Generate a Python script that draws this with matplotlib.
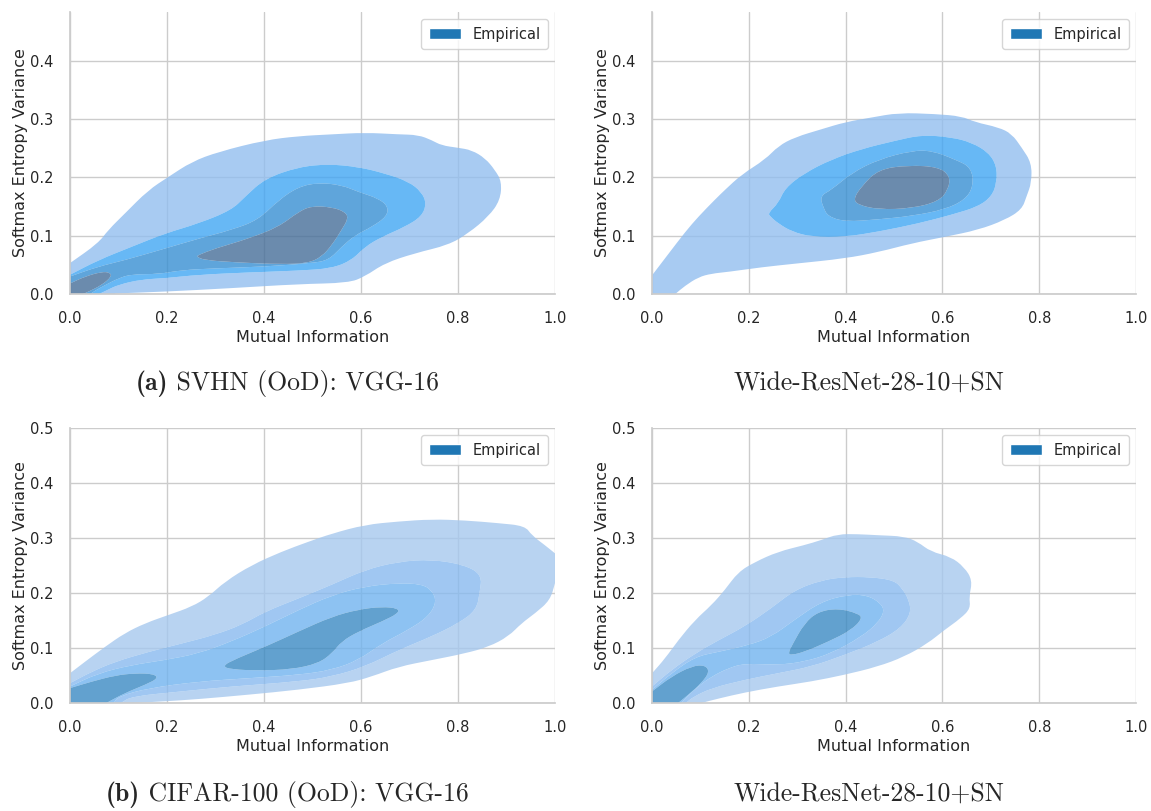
import numpy as np
import matplotlib
matplotlib.use("Agg")
import matplotlib.pyplot as plt
import matplotlib.colors as mcolors
import seaborn as sns
from matplotlib.path import Path
from matplotlib.patches import PathPatch, Patch

#-------------------------------------------------------------------------------
# contour outlines (x = mutual information, y = variance)
#-------------------------------------------------------------------------------
# (a) SVHN, VGG-16
svhn_vgg_l1 = [[(0, 0.053), (0.058, 0.087), (0.079, 0.11), (0.113, 0.138), (0.161, 0.178),
                (0.203, 0.201), (0.251, 0.227), (0.306, 0.244), (0.402, 0.264), (0.471, 0.271),
                (0.54, 0.274), (0.608, 0.277), (0.677, 0.274), (0.718, 0.273), (0.746, 0.264),
                (0.766, 0.255), (0.8, 0.251), (0.828, 0.247), (0.856, 0.233), (0.876, 0.213),
                (0.89, 0.193), (0.887, 0.161), (0.863, 0.133), (0.821, 0.104), (0.78, 0.084),
                (0.711, 0.07), (0.649, 0.053), (0.608, 0.03), (0.574, 0.019), (0.471, 0.017),
                (0.333, 0.01), (0.196, 0.004), (0.093, 0.001), (0.093, 0), (0, 0)]]
svhn_vgg_l2 = [[(0, 0.033), (0.058, 0.058), (0.127, 0.081), (0.196, 0.104), (0.265, 0.121),
                (0.333, 0.144), (0.361, 0.167), (0.402, 0.198), (0.471, 0.218), (0.533, 0.223),
                (0.595, 0.218), (0.649, 0.207), (0.698, 0.193), (0.725, 0.175), (0.735, 0.155),
                (0.725, 0.133), (0.69, 0.115), (0.643, 0.098), (0.608, 0.081), (0.581, 0.058),
                (0.54, 0.044), (0.471, 0.04), (0.368, 0.037), (0.265, 0.033), (0.196, 0.027),
                (0.148, 0.025), (0.1, 0.016), (0.075, 0.006), (0.06, 0), (0, 0)]]
svhn_vgg_l3 = [[(0, 0.03), (0.058, 0.047), (0.113, 0.058), (0.196, 0.078), (0.265, 0.095),
                (0.333, 0.11), (0.388, 0.127), (0.43, 0.161), (0.471, 0.184), (0.512, 0.191),
                (0.56, 0.187), (0.595, 0.175), (0.636, 0.164), (0.656, 0.15), (0.653, 0.133),
                (0.622, 0.115), (0.588, 0.101), (0.56, 0.081), (0.533, 0.058), (0.498, 0.053),
                (0.402, 0.047), (0.299, 0.044), (0.23, 0.041), (0.182, 0.034), (0.127, 0.034),
                (0.1, 0.027), (0.072, 0.015), (0.052, 0.006), (0.042, 0), (0, 0)]]
svhn_vgg_l4 = [[(0, 0.018), (0.031, 0.03), (0.065, 0.038), (0.082, 0.037), (0.086, 0.03),
                (0.065, 0.015), (0.038, 0.004), (0.027, 0), (0, 0)],
               [(0.265, 0.067), (0.299, 0.078), (0.368, 0.095), (0.43, 0.115), (0.471, 0.141),
                (0.498, 0.151), (0.54, 0.149), (0.567, 0.141), (0.574, 0.13), (0.56, 0.11),
                (0.54, 0.084), (0.519, 0.064), (0.491, 0.053), (0.436, 0.051), (0.347, 0.054),
                (0.278, 0.058), (0.261, 0.064)]]

# SVHN, Wide-ResNet-28-10+SN
svhn_wrn_l1 = [[(0, 0.032), (0.034, 0.069), (0.069, 0.107), (0.096, 0.133), (0.13, 0.162),
                (0.151, 0.179), (0.185, 0.205), (0.234, 0.231), (0.261, 0.254), (0.295, 0.269),
                (0.351, 0.283), (0.399, 0.295), (0.454, 0.303), (0.509, 0.311), (0.585, 0.309),
                (0.64, 0.305), (0.667, 0.295), (0.716, 0.286), (0.743, 0.275), (0.764, 0.251),
                (0.784, 0.225), (0.784, 0.191), (0.774, 0.168), (0.764, 0.145), (0.729, 0.127),
                (0.674, 0.11), (0.605, 0.098), (0.537, 0.087), (0.468, 0.072), (0.399, 0.061),
                (0.295, 0.052), (0.227, 0.046), (0.158, 0.038), (0.123, 0.035), (0.096, 0.029),
                (0.068, 0.014), (0.048, 0), (0, 0)]]
svhn_wrn_l2 = [[(0.24, 0.139), (0.261, 0.156), (0.275, 0.182), (0.316, 0.208), (0.371, 0.231),
                (0.433, 0.249), (0.502, 0.263), (0.557, 0.273), (0.619, 0.269), (0.66, 0.26),
                (0.695, 0.243), (0.712, 0.22), (0.712, 0.191), (0.702, 0.168), (0.674, 0.15),
                (0.619, 0.136), (0.55, 0.121), (0.468, 0.107), (0.399, 0.098), (0.33, 0.098),
                (0.289, 0.107), (0.261, 0.121), (0.244, 0.133)]]
svhn_wrn_l3 = [[(0.347, 0.168), (0.371, 0.179), (0.413, 0.208), (0.468, 0.231), (0.537, 0.246),
                (0.578, 0.246), (0.626, 0.231), (0.66, 0.217), (0.664, 0.185), (0.647, 0.162),
                (0.605, 0.145), (0.537, 0.134), (0.468, 0.128), (0.399, 0.124), (0.364, 0.133),
                (0.354, 0.148)]]
svhn_wrn_l4 = [[(0.416, 0.163), (0.433, 0.185), (0.468, 0.214), (0.53, 0.221), (0.592, 0.218),
                (0.616, 0.202), (0.612, 0.179), (0.592, 0.159), (0.537, 0.147), (0.468, 0.145),
                (0.426, 0.153)]]

# (b) CIFAR-100, VGG-16
cifar_vgg_l1 = [[(0, 0.054), (0.031, 0.075), (0.072, 0.102), (0.113, 0.127), (0.155, 0.145),
                 (0.203, 0.16), (0.251, 0.175), (0.285, 0.193), (0.32, 0.221), (0.375, 0.251),
                 (0.436, 0.275), (0.491, 0.293), (0.54, 0.308), (0.608, 0.324), (0.677, 0.33),
                 (0.746, 0.334), (0.814, 0.332), (0.883, 0.327), (0.938, 0.322), (0.952, 0.305),
                 (0.979, 0.287), (1.0, 0.272), (1.0, 0.218), (0.99, 0.187), (0.959, 0.163),
                 (0.931, 0.145), (0.904, 0.121), (0.863, 0.102), (0.814, 0.09), (0.746, 0.078),
                 (0.677, 0.066), (0.622, 0.048), (0.574, 0.036), (0.471, 0.024), (0.368, 0.015),
                 (0.265, 0.007), (0.196, 0.003), (0.13, 0), (0, 0)]]
cifar_vgg_l2 = [[(0, 0.036), (0.045, 0.057), (0.093, 0.075), (0.162, 0.093), (0.23, 0.108),
                 (0.299, 0.124), (0.354, 0.142), (0.402, 0.166), (0.471, 0.19), (0.54, 0.215),
                 (0.608, 0.242), (0.677, 0.257), (0.746, 0.261), (0.814, 0.251), (0.849, 0.233),
                 (0.845, 0.202), (0.838, 0.169), (0.801, 0.145), (0.746, 0.121), (0.677, 0.096),
                 (0.608, 0.066), (0.54, 0.048), (0.471, 0.039), (0.333, 0.03), (0.23, 0.021),
                 (0.127, 0.012), (0.105, 0), (0, 0)]]
cifar_vgg_l3 = [[(0, 0.03), (0.058, 0.054), (0.127, 0.069), (0.196, 0.078), (0.265, 0.09),
                 (0.333, 0.112), (0.402, 0.139), (0.471, 0.169), (0.54, 0.196), (0.608, 0.212),
                 (0.677, 0.218), (0.725, 0.216), (0.746, 0.205), (0.756, 0.184), (0.739, 0.157),
                 (0.698, 0.133), (0.643, 0.108), (0.595, 0.078), (0.54, 0.06), (0.471, 0.051),
                 (0.368, 0.045), (0.265, 0.039), (0.162, 0.027), (0.1, 0.012), (0.09, 0), (0, 0)]]
cifar_vgg_l4 = [[(0, 0.027), (0.045, 0.039), (0.093, 0.05), (0.134, 0.054), (0.172, 0.053),
                 (0.182, 0.045), (0.155, 0.033), (0.113, 0.018), (0.075, 0), (0, 0)],
                [(0.313, 0.067), (0.344, 0.081), (0.402, 0.102), (0.471, 0.13), (0.54, 0.157),
                 (0.595, 0.17), (0.643, 0.175), (0.677, 0.172), (0.677, 0.163), (0.643, 0.148),
                 (0.595, 0.13), (0.56, 0.112), (0.54, 0.09), (0.512, 0.072), (0.457, 0.061),
                 (0.388, 0.059), (0.333, 0.061)]]

# CIFAR-100, Wide-ResNet-28-10+SN
cifar_wrn_l1 = [[(0, 0.054), (0.027, 0.081), (0.054, 0.114), (0.089, 0.151), (0.123, 0.178),
                 (0.15, 0.205), (0.178, 0.238), (0.212, 0.256), (0.26, 0.275), (0.315, 0.287),
                 (0.349, 0.296), (0.384, 0.307), (0.425, 0.307), (0.466, 0.305), (0.521, 0.303),
                 (0.549, 0.293), (0.576, 0.275), (0.617, 0.266), (0.645, 0.247), (0.662, 0.223),
                 (0.655, 0.193), (0.658, 0.172), (0.638, 0.154), (0.603, 0.132), (0.569, 0.108),
                 (0.521, 0.084), (0.466, 0.066), (0.397, 0.051), (0.329, 0.039), (0.26, 0.03),
                 (0.191, 0.019), (0.137, 0.008), (0.102, 0), (0, 0)]]
cifar_wrn_l2 = [[(0, 0.03), (0.04, 0.06), (0.089, 0.09), (0.137, 0.114), (0.191, 0.139),
                 (0.246, 0.172), (0.294, 0.205), (0.349, 0.223), (0.397, 0.229), (0.452, 0.229),
                 (0.5, 0.223), (0.517, 0.208), (0.531, 0.187), (0.535, 0.163), (0.514, 0.136),
                 (0.466, 0.111), (0.397, 0.087), (0.329, 0.066), (0.26, 0.054), (0.191, 0.042),
                 (0.123, 0.027), (0.085, 0.011), (0.07, 0), (0, 0)]]
cifar_wrn_l3 = [[(0, 0.024), (0.04, 0.054), (0.089, 0.084), (0.137, 0.093), (0.199, 0.105),
                 (0.246, 0.12), (0.294, 0.151), (0.349, 0.184), (0.404, 0.197), (0.445, 0.196),
                 (0.473, 0.181), (0.48, 0.166), (0.466, 0.145), (0.432, 0.12), (0.37, 0.09),
                 (0.315, 0.075), (0.26, 0.069), (0.191, 0.072), (0.157, 0.063), (0.123, 0.048),
                 (0.095, 0.03), (0.072, 0.011), (0.06, 0), (0, 0)]]
cifar_wrn_l4 = [[(0, 0.021), (0.04, 0.048), (0.082, 0.067), (0.109, 0.069), (0.119, 0.057),
                 (0.102, 0.036), (0.075, 0.015), (0.054, 0), (0, 0)],
                [(0.281, 0.09), (0.291, 0.108), (0.315, 0.145), (0.343, 0.166), (0.384, 0.172),
                 (0.425, 0.163), (0.435, 0.154), (0.411, 0.132), (0.363, 0.111), (0.315, 0.093),
                 (0.288, 0.087)]]

# colours of the bands as seen on white, outer -> inner
top_colours = ['#a8cbf2', '#67b8f5', '#5fa5db', '#6b8bad']
bottom_colours = ['#b8d3f1', '#a0c8f2', '#8dc2f2', '#62a1cf']
legend_colour = '#1f77b4'
ALPHA = 0.8

caption_tags = ['(a)', '', '(b)', '']
caption_texts = ['SVHN (OoD): VGG-16', 'Wide-ResNet-28-10+SN',
                 'CIFAR-100 (OoD): VGG-16', 'Wide-ResNet-28-10+SN']
xticks = [0.0, 0.2, 0.4, 0.6, 0.8, 1.0]
#-------------------------------------------------------------------------------


def ring_path(pts, ccw):
    # closed outline; rounded corners between the read points, sharp on the axes
    pts = np.asarray(pts, float)
    area = np.sum(pts[:, 0] * np.roll(pts[:, 1], -1) - np.roll(pts[:, 0], -1) * pts[:, 1])
    if (area > 0) != ccw:
        pts = pts[::-1]
    mids = (pts + np.roll(pts, -1, axis=0)) / 2
    verts, codes = [mids[-1]], [Path.MOVETO]
    for p, m in zip(pts, mids):
        edge = p[0] <= 0 or p[1] <= 0 or p[0] >= 1
        verts += [p, m]
        codes += [Path.LINETO, Path.LINETO] if edge else [Path.CURVE3, Path.CURVE3]
    verts.append(mids[-1])
    codes.append(Path.CLOSEPOLY)
    return Path(verts, codes)


def band(outer, inner):
    # region of one level minus the next one (holes run the other way round)
    parts = [ring_path(p, True) for p in outer]
    parts += [ring_path(p, False) for p in inner]
    return Path.make_compound_path(*parts)


def base_colour(c, a=ALPHA):
    rgb = np.array(mcolors.to_rgb(c))
    return tuple(np.clip((rgb - (1 - a)) / a, 0, 1))


def draw_kde(ax, levels, colours, ytop, yticks):
    for i, lev in enumerate(levels):
        inner = levels[i + 1] if i + 1 < len(levels) else []
        ax.add_patch(PathPatch(band(lev, inner), facecolor=base_colour(colours[i]),
                               edgecolor='none', alpha=ALPHA, zorder=1))
    ax.set_xlim(0, 1)
    ax.set_ylim(0, ytop)
    ax.set_xticks(xticks)
    ax.set_yticks(yticks)
    ax.xaxis.set_major_formatter('{x:.1f}')
    ax.yaxis.set_major_formatter('{x:.1f}')
    ax.tick_params(labelsize=10.5, pad=6)
    ax.set_xlabel('Mutual Information', fontsize=11.5, labelpad=3)
    ax.set_ylabel('Softmax Entropy Variance', fontsize=11.5, labelpad=1)
    ax.legend(handles=[Patch(facecolor=legend_colour, label='Empirical')],
              loc='upper right', fontsize=10.5, handlelength=2.2, borderpad=0.5)
    sns.despine(ax=ax)


def caption(fig, x, y, tag, text, size=18.5):
    # bold tag in cmb10 followed by the roman part in cmr10, centred as one line
    r = fig.canvas.get_renderer()
    fw = fig.bbox.width
    rest = (' ' + text) if tag else text
    t2 = fig.text(0, y, rest, ha='left', va='center', fontsize=size, family='cmr10')
    w2 = t2.get_window_extent(r).width / fw
    w1 = 0
    if tag:
        t1 = fig.text(0, y, tag, ha='left', va='center', fontsize=size, family='cmb10')
        w1 = t1.get_window_extent(r).width / fw
        t1.set_x(x - (w1 + w2) / 2)
    t2.set_x(x - (w1 + w2) / 2 + w1)


sns.set_theme(style='whitegrid')

fig = plt.figure(figsize=(11.51, 8.11), dpi=100)

ax1 = fig.add_axes([0.0608, 0.6375, 0.4214, 0.3477])
ax2 = fig.add_axes([0.5665, 0.6375, 0.4205, 0.3477])
ax3 = fig.add_axes([0.0608, 0.1332, 0.4214, 0.3391])
ax4 = fig.add_axes([0.5665, 0.1332, 0.4205, 0.3391])

draw_kde(ax1, [svhn_vgg_l1, svhn_vgg_l2, svhn_vgg_l3, svhn_vgg_l4], top_colours,
         0.484, [0.0, 0.1, 0.2, 0.3, 0.4])
draw_kde(ax2, [svhn_wrn_l1, svhn_wrn_l2, svhn_wrn_l3, svhn_wrn_l4], top_colours,
         0.484, [0.0, 0.1, 0.2, 0.3, 0.4])
draw_kde(ax3, [cifar_vgg_l1, cifar_vgg_l2, cifar_vgg_l3, cifar_vgg_l4], bottom_colours,
         0.5, [0.0, 0.1, 0.2, 0.3, 0.4, 0.5])
draw_kde(ax4, [cifar_wrn_l1, cifar_wrn_l2, cifar_wrn_l3, cifar_wrn_l4], bottom_colours,
         0.5, [0.0, 0.1, 0.2, 0.3, 0.4, 0.5])

spots = [(0.25, 0.527), (0.755, 0.527), (0.25, 0.02), (0.755, 0.02)]
for (x, y), tag, txt in zip(spots, caption_tags, caption_texts):
    caption(fig, x, y, tag, txt)

fig.savefig('out.png', dpi=100)
